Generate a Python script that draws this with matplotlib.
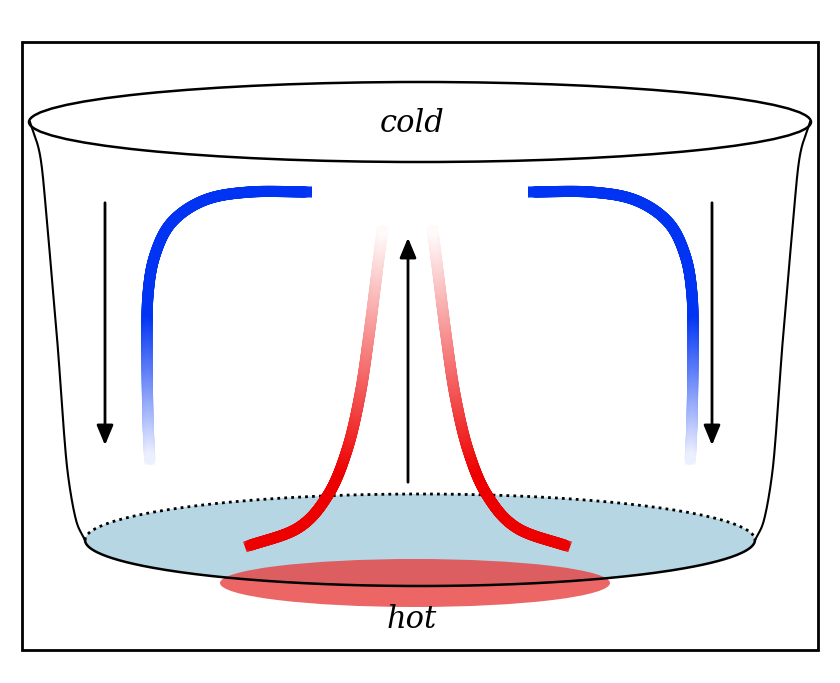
import numpy as np
import matplotlib
matplotlib.use("Agg")
import matplotlib.pyplot as plt
from matplotlib.patches import Ellipse, Rectangle, FancyArrowPatch
from matplotlib.collections import LineCollection

# diagram geometry (pixel coords)
left_wall_x = [30, 40, 46, 52, 58, 63, 68, 76, 85]
left_wall_y = [122, 155, 210, 280, 350, 420, 475, 520, 540]
blue_x = [312, 250, 205, 172, 155, 148, 147, 148, 150]
blue_y = [192, 192, 200, 222, 255, 295, 350, 420, 465]
red_x = [245, 298, 328, 347, 360, 369, 376, 383]
red_y = [547, 528, 495, 450, 395, 335, 280, 225]

def catmull(x, y, n=30):
    p = np.column_stack([x, y]).astype(float)
    p = np.vstack([2*p[0]-p[1], p, 2*p[-1]-p[-2]])
    out = []
    t = np.linspace(0, 1, n, endpoint=False)[:, None]
    for i in range(1, len(p)-2):
        p0, p1, p2, p3 = p[i-1], p[i], p[i+1], p[i+2]
        out.append(0.5*((2*p1) + (-p0+p2)*t + (2*p0-5*p1+4*p2-p3)*t**2 + (-p0+3*p1-3*p2+p3)*t**3))
    out.append(p[-2][None, :])
    o = np.vstack(out)
    return o[:, 0], o[:, 1]

fig = plt.figure(figsize=(8.4, 6.83), dpi=100)
ax = fig.add_axes([0, 0, 1, 1])
ax.set_xlim(0, 840); ax.set_ylim(683, 0); ax.axis('off')

ax.add_patch(Rectangle((22, 42), 796, 608, fill=False, lw=2, ec='black'))

# bottom water ellipse
ax.add_patch(Ellipse((420, 540), 670, 92, fc='#a9cfe0', ec='none', alpha=0.85, zorder=1))
th = np.linspace(0, np.pi, 200)
ax.plot(420 + 335*np.cos(th), 540 + 46*np.sin(th), color='black', lw=1.8, zorder=3)
th2 = np.linspace(np.pi, 2*np.pi, 200)
ax.plot(420 + 335*np.cos(th2), 540 + 46*np.sin(th2), color='black', lw=2, ls=(0, (1, 1.5)), zorder=3)
# hot patch
ax.add_patch(Ellipse((415, 583), 390, 48, fc='#e84040', ec='none', alpha=0.8, zorder=2))

# top ellipse
ax.add_patch(Ellipse((420, 122), 782, 80, fill=False, ec='black', lw=1.8, zorder=3))

# walls
wx, wy = catmull(left_wall_x, left_wall_y)
ax.plot(wx, wy, color='black', lw=1.5)
ax.plot(840 - wx, wy, color='black', lw=1.5)

def grad_line(x, y, rgb, fade_from, fade_to):
    x, y = catmull(x, y, 60)
    pts = np.column_stack([x, y]).reshape(-1, 1, 2)
    segs = np.concatenate([pts[:-1], pts[1:]], axis=1)
    ym = (y[:-1] + y[1:]) / 2
    a = np.clip((ym - fade_to) / (fade_from - fade_to), 0, 1)
    cols = [tuple(ai*np.array(rgb) + (1-ai)) for ai in a]
    ax.add_collection(LineCollection(segs, colors=cols, linewidths=8, capstyle='butt', zorder=4))
    s = np.r_[0, np.cumsum(np.hypot(np.diff(x), np.diff(y)))]
    sm = (s[:-1] + s[1:]) / 2
    keep = (sm > 6) & (sm < s[-1] - 6)
    ax.add_collection(LineCollection(segs[keep], colors=[c for c, k in zip(cols, keep) if k],
                                     linewidths=8, capstyle='round', zorder=4))

blue = (0.0, 0.2, 0.95)
red = (0.93, 0.0, 0.0)
grad_line(blue_x, blue_y, blue, 320, 470)
grad_line([840 - v for v in blue_x], blue_y, blue, 320, 470)
grad_line(red_x, red_y, red, 470, 225)
grad_line([815 - v for v in red_x], red_y, red, 470, 225)

def arrow(x0, y0, x1, y1):
    ax.add_patch(FancyArrowPatch((x0, y0), (x1, y1), arrowstyle='-|>,head_length=12,head_width=5',
                                 color='black', lw=2, mutation_scale=1, zorder=5))
arrow(105, 200, 105, 448)
arrow(712, 200, 712, 448)
arrow(408, 485, 408, 235)

ax.text(412, 124, 'cold', fontsize=22, style='italic', family='DejaVu Serif', ha='center', va='center')
ax.text(412, 620, 'hot', fontsize=22, style='italic', family='DejaVu Serif', ha='center', va='center', zorder=6)

fig.savefig('out.png', dpi=100)
